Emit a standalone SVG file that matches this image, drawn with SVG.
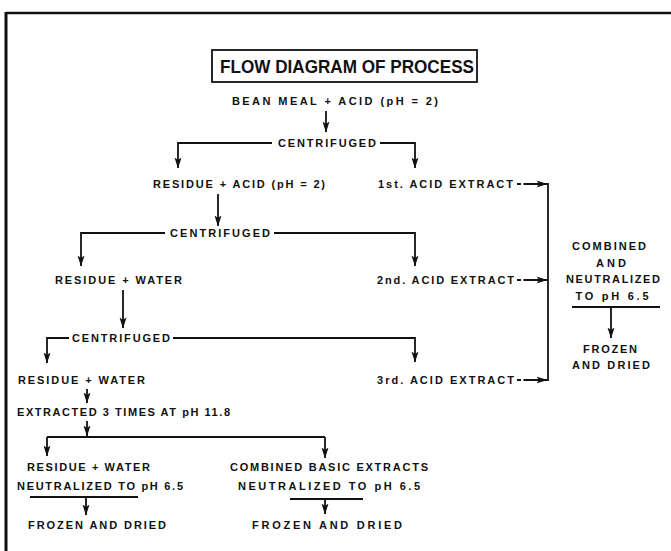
<svg xmlns="http://www.w3.org/2000/svg" width="671" height="551" viewBox="0 0 671 551">
<defs>
<marker id="ah" markerUnits="userSpaceOnUse" markerWidth="11" markerHeight="8" viewBox="0 0 11 8" refX="10.5" refY="4" orient="auto">
<path d="M0,0.5 L11,4 L0,7.5 L2.5,4 Z" fill="#111"/>
</marker>
</defs>
<style>
text{font-family:"Liberation Sans","DejaVu Sans",Arial,sans-serif;font-weight:bold;font-size:11px;fill:#111}
.t{font-size:18px}
.c{text-anchor:middle}
.ln{stroke:#111;stroke-width:1.8;fill:none}
.ar{stroke:#111;stroke-width:1.8;fill:none;marker-end:url(#ah)}
.dsh{stroke-dasharray:4 2.5 60}
.fr{stroke:#111;fill:none}
</style>
<rect width="671" height="551" fill="#fff"/>
<g id="frame">
<line class="fr" x1="6" y1="13" x2="671" y2="13" stroke-width="2.5"/>
<line class="fr" x1="6" y1="12" x2="6" y2="551" stroke-width="3"/>
</g>
<g id="title">
<rect x="212" y="50" width="265" height="32" fill="none" stroke="#111" stroke-width="1.8"/>
<text class="t" x="220" y="72.5" textLength="254" lengthAdjust="spacingAndGlyphs">FLOW DIAGRAM OF PROCESS</text>
</g>
<g id="n-bean"><text x="232" y="105" textLength="206" lengthAdjust="spacing">BEAN MEAL + ACID (pH = 2)</text></g>
<g id="n-cent1"><text x="278" y="147" textLength="98" lengthAdjust="spacing">CENTRIFUGED</text></g>
<g id="n-res-acid"><text x="153" y="188" textLength="172" lengthAdjust="spacing">RESIDUE + ACID (pH = 2)</text></g>
<g id="n-ext1"><text x="378" y="188" textLength="135" lengthAdjust="spacing">1st. ACID EXTRACT</text></g>
<g id="n-cent2"><text x="170" y="237" textLength="100" lengthAdjust="spacing">CENTRIFUGED</text></g>
<g id="n-res-water1"><text x="55" y="284" textLength="127" lengthAdjust="spacing">RESIDUE + WATER</text></g>
<g id="n-ext2"><text x="377" y="284" textLength="137" lengthAdjust="spacing">2nd. ACID EXTRACT</text></g>
<g id="n-cent3"><text x="72" y="342" textLength="98" lengthAdjust="spacing">CENTRIFUGED</text></g>
<g id="n-res-water2"><text x="18" y="384" textLength="127" lengthAdjust="spacing">RESIDUE + WATER</text></g>
<g id="n-ext3"><text x="377" y="384" textLength="137" lengthAdjust="spacing">3rd. ACID EXTRACT</text></g>
<g id="n-extracted"><text x="17" y="416" textLength="213" lengthAdjust="spacing">EXTRACTED 3 TIMES AT pH 11.8</text></g>
<g id="n-res-water3">
<text x="27" y="471" textLength="123" lengthAdjust="spacing">RESIDUE + WATER</text>
<text x="17" y="490" textLength="166" lengthAdjust="spacing">NEUTRALIZED TO pH 6.5</text>
</g>
<g id="n-frozen1"><text x="28" y="529" textLength="138" lengthAdjust="spacing">FROZEN AND DRIED</text></g>
<g id="n-basic">
<text x="230" y="471" textLength="198" lengthAdjust="spacing">COMBINED BASIC EXTRACTS</text>
<text x="238" y="490" textLength="182" lengthAdjust="spacing">NEUTRALIZED TO pH 6.5</text>
</g>
<g id="n-frozen2"><text x="252" y="529" textLength="150" lengthAdjust="spacing">FROZEN AND DRIED</text></g>
<g id="n-combined">
<text class="c" x="609" y="250" textLength="74" lengthAdjust="spacing">COMBINED</text>
<text class="c" x="611" y="267" textLength="30" lengthAdjust="spacing">AND</text>
<text class="c" x="613" y="283" textLength="94" lengthAdjust="spacing">NEUTRALIZED</text>
<text class="c" x="612" y="300" textLength="73" lengthAdjust="spacing">TO pH 6.5</text>
</g>
<g id="n-frozen3">
<text class="c" x="610" y="353" textLength="54" lengthAdjust="spacing">FROZEN</text>
<text class="c" x="611" y="369" textLength="78" lengthAdjust="spacing">AND DRIED</text>
</g>
<g id="connectors">
<line class="ar" x1="326" y1="111" x2="326" y2="132"/>
<polyline class="ar" points="272,143 178,143 178,168"/>
<polyline class="ar" points="380,143 415,143 415,168"/>
<line class="ar" x1="218" y1="194" x2="218" y2="226"/>
<polyline class="ar" points="165,233 81,233 81,266"/>
<polyline class="ar" points="274,233 415,233 415,266"/>
<line class="ar" x1="123" y1="290" x2="123" y2="328"/>
<polyline class="ar" points="69,338 47,338 47,363"/>
<polyline class="ar" points="173,338 415,338 415,362"/>
<line class="ar dsh" x1="517" y1="184" x2="547" y2="184"/>
<line class="ar dsh" x1="517" y1="280" x2="547" y2="280"/>
<line class="ar dsh" x1="517" y1="380" x2="547" y2="380"/>
<line class="ln" x1="548" y1="183" x2="548" y2="381"/>
<line class="ln" x1="572" y1="307" x2="660" y2="307"/>
<line class="ar" x1="611" y1="307" x2="611" y2="338"/>
<line class="ar" x1="87" y1="389" x2="87" y2="403"/>
<line class="ar" x1="87" y1="421" x2="87" y2="436"/>
<line class="ln" x1="47" y1="437" x2="325" y2="437"/>
<line class="ar" x1="47" y1="437" x2="47" y2="456"/>
<line class="ar" x1="325" y1="437" x2="325" y2="458"/>
<line class="ln" x1="30" y1="497" x2="138" y2="497"/>
<line class="ar" x1="86" y1="497" x2="86" y2="515"/>
<line class="ln" x1="290" y1="499" x2="363" y2="499"/>
<line class="ar" x1="325" y1="499" x2="325" y2="514"/>
</g>
</svg>
